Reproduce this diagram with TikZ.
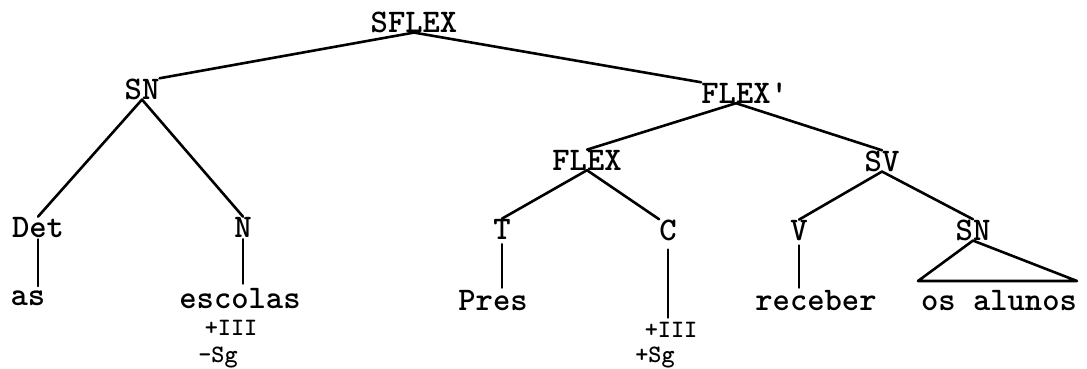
\documentclass[tikz,border=0pt]{standalone}
\usepackage{tikz}

\begin{document}
\begin{tikzpicture}[x=1pt, y=-1pt,
    etichetta/.style={font=\ttfamily\bfseries\fontsize{33}{34}\selectfont, inner sep=0pt, anchor=base},
    tratto/.style={font=\ttfamily\bfseries\fontsize{25}{26}\selectfont, inner sep=0pt, anchor=base},
    ramo/.style={line width=2.6pt, line cap=round, line join=round}]
    \useasboundingbox (0,0) rectangle (1087,368);

    % Nodi interni
    \node[etichetta] (sflex) at (414,32) {SFLEX};
    \node[etichetta] (sn) at (142,99) {SN};
    \node[etichetta] (flexp) at (736,103) {FLEX\rlap{'}};
    \node[etichetta] (flex) at (587,170) {FLEX};
    \node[etichetta] (sv) at (882,171) {SV};

    % Categorie lessicali
    \node[etichetta] (det) at (38,237) {Det};
    \node[etichetta] (n) at (243,237) {N};
    \node[etichetta] (t) at (502,239) {T};
    \node[etichetta] (c) at (668,240) {C};
    \node[etichetta] (v) at (799,240) {V};
    \node[etichetta] (sn2) at (973,240) {SN};

    % Parole
    \node[etichetta] (as) at (28,305) {as};
    \node[etichetta] (escolas) at (240,308) {escolas};
    \node[etichetta] (pres) at (493,310) {Pres};
    \node[etichetta] (receber) at (816,310) {receber};
    \node[etichetta] (alunos) at (999,310) {os alunos};

    % Tratti
    \node[tratto] (trA1) at (231,335) {+III};
    \node[tratto] (trA2) at (218,362) {-Sg};
    \node[tratto] (trB1) at (671,337) {+III};
    \node[tratto] (trB2) at (655,362) {+Sg};

    % Rami
    \draw[ramo] (sflex.south) -- (sn.north east);
    \draw[ramo] (sflex.south) -- (flexp.north west);
    \draw[ramo] (sn.south) -- (det.north);
    \draw[ramo] (sn.south) -- (n.north);
    \draw[ramo] (flexp.south) -- (flex.north);
    \draw[ramo] (flexp.south) -- (sv.north);
    \draw[ramo] (flex.south) -- (t.north);
    \draw[ramo] (flex.south) -- (c.north west);
    \draw[ramo] (sv.south) -- (v.north);
    \draw[ramo] (sv.south) -- (sn2.north);

    % Rami verticali
    \draw[ramo, shorten <=2pt, shorten >=4pt] (det.south) -- (det.south |- as.north);
    \draw[ramo, shorten <=2pt, shorten >=4pt] (n.south) -- (n.south |- escolas.north);
    \draw[ramo, shorten <=5pt, shorten >=2pt] (t.south) -- (t.south |- pres.north);
    \draw[ramo, shorten <=9pt, shorten >=4pt] (c.south) -- (c.south |- trB1.north);
    \draw[ramo, shorten <=5pt, shorten >=2pt] (v.south) -- (v.south |- receber.north);

    % Triangolo
    \coordinate (basesx) at (918,281);
    \coordinate (basedx) at (1077,281);
    \draw[ramo] (sn2.south) -- (basesx) -- (basedx) -- cycle;
\end{tikzpicture}
\end{document}
